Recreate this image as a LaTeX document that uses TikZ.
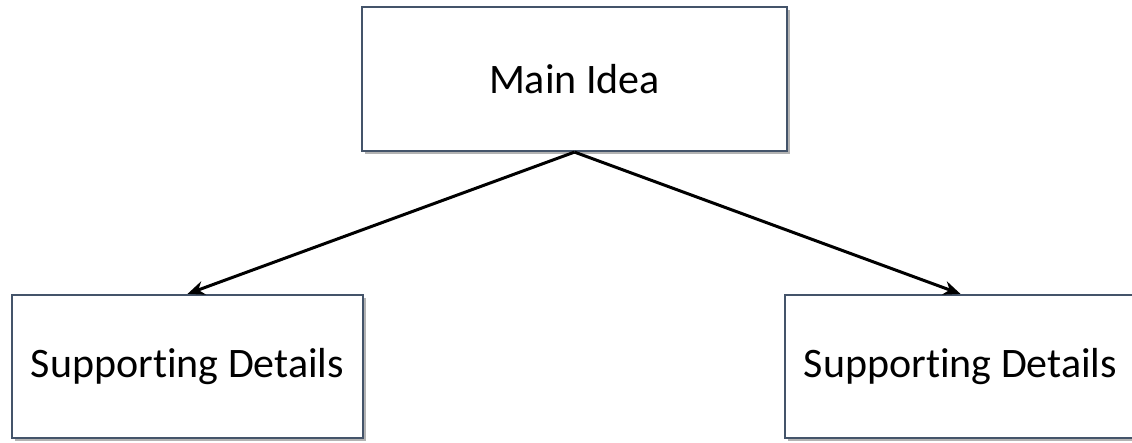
\documentclass[tikz,border=0pt]{standalone}
\usepackage{fontspec}
\setmainfont{Carlito}[Ligatures=NoCommon]
\usetikzlibrary{shadows,arrows.meta}

\begin{document}
\begin{tikzpicture}[x=1pt, y=1pt,
  ideabox/.style={draw=boxline, line width=2.2pt, fill=white,
    minimum width=#1, minimum height=144pt, inner sep=0pt,
    drop shadow={shadow xshift=3pt, shadow yshift=-3pt, fill=black!50, opacity=0.6},
    font=\fontsize{42}{50}\selectfont},
  link/.style={-{Stealth[length=17pt, width=14pt]}, line width=3pt, black}]

\definecolor{boxline}{HTML}{44546A}

% Page frame
\useasboundingbox (0,0) rectangle (1132,443);
\clip (0,0) rectangle (1132,443);

% Boxes
\node[ideabox=425pt] (main) at (574.5,364) {Main Idea};
\node[ideabox=351pt, minimum height=143pt] (left) at (187.5,76.5) {Supporting Details};
\node[ideabox=351pt, minimum height=143pt] (right) at (960.5,76.5) {Supporting Details};

% Links
\draw[link] (main.south) -- (left.north);
\draw[link] (main.south) -- (right.north);

\end{tikzpicture}
\end{document}
